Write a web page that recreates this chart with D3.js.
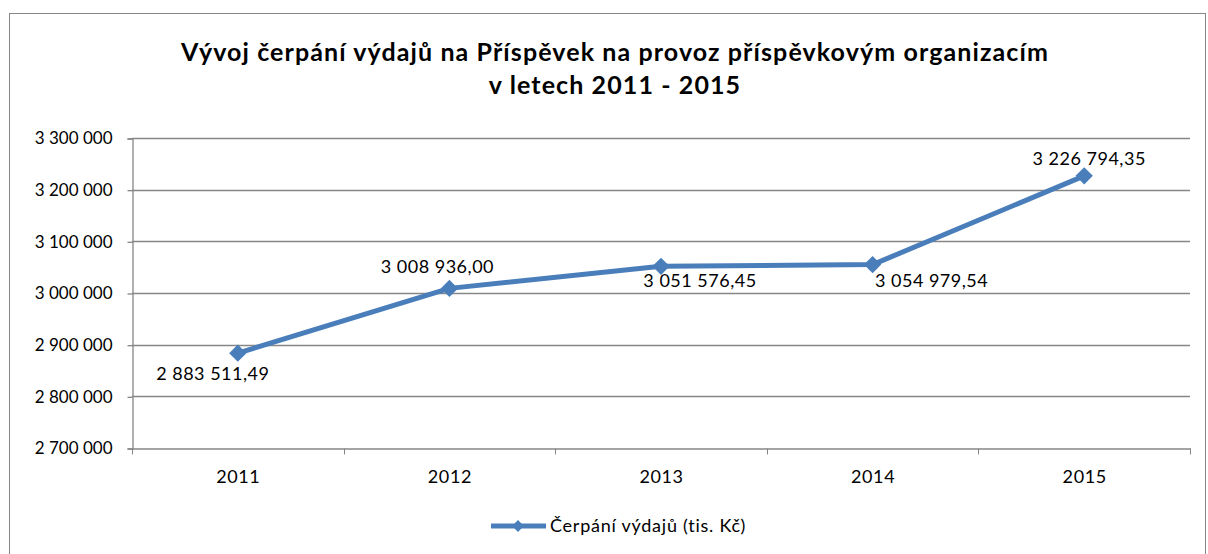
<!DOCTYPE html>
<html>
<head>
<meta charset="utf-8">
<script src="https://cdn.jsdelivr.net/npm/d3@7"></script>
<style>
  body { margin: 0; background: #fff; }
  text { font-family: Lato, "Open Sans", sans-serif; fill: #000; }
</style>
</head>
<body>
<svg id="chart" width="1208" height="554"></svg>
<script>
var years = ["2011", "2012", "2013", "2014", "2015"];
var values = [2883511.49, 3008936.00, 3051576.45, 3054979.54, 3226794.35];
var yTicks = [2700000, 2800000, 2900000, 3000000, 3100000, 3200000, 3300000];
var seriesName = "Čerpání výdajů (tis. Kč)";
var titleLines = ["Vývoj čerpání výdajů na Příspěvek na provoz příspěvkovým organizacím", "v letech 2011 - 2015"];
// label placement: dx, dy (baseline) from point
var labelPos = [[-25, 27], [-12, -15], [39, 21], [59, 22], [5, -11]];

var svg = d3.select("#chart"),
    margin = { left: 132, top: 138, right: 18, bottom: 106 },
    width = 1208, height = 554,
    lineColor = "#4a7ebb",
    gridColor = "#868686";

var fmtInt = function ( v ) {
    return d3.format(",d")( v ).replace( /,/g, " " );
};
var fmtDec = function ( v ) {
    return d3.format(",.2f")( v ).replace( /,/g, " " ).replace( ".", "," );
};

// outer frame
svg.append( "rect" )
    .attr( "x", 9.5 ).attr( "y", 13.5 )
    .attr( "width", 1196 ).attr( "height", 560 )
    .attr( "fill", "none" ).attr( "stroke", gridColor ).attr( "stroke-width", 1 );

svg.selectAll( "text.title" )
    .data( titleLines )
    .join( "text" )
    .attr( "class", "title" )
    .attr( "x", 615 )
    .attr( "y", ( d, i ) => 61 + i * 33 )
    .attr( "text-anchor", "middle" )
    .attr( "font-size", 25 )
    .attr( "letter-spacing", 1.1 )
    .attr( "font-weight", "bold" )
    .text( d => d );

var x = d3.scaleBand( years, [margin.left, width - margin.right] );
var y = d3.scaleLinear( [2700000, 3300000], [height - margin.bottom, margin.top] );

// gridlines
svg.append( "g" )
    .selectAll( "line" )
    .data( yTicks.slice( 1 ) )
    .join( "line" )
    .attr( "x1", margin.left ).attr( "x2", width - margin.right )
    .attr( "y1", d => Math.round( y( d ) ) + 0.5 ).attr( "y2", d => Math.round( y( d ) ) + 0.5 )
    .attr( "stroke", gridColor ).attr( "stroke-width", 1.3 );

// y axis
var yAxis = svg.append( "g" )
    .attr( "transform", `translate(${margin.left + 0.5},0.5)` )
    .call( d3.axisLeft( y ).tickValues( yTicks ).tickFormat( fmtInt ).tickSize( 5 ).tickPadding( 15 ) );
yAxis.selectAll( "text" ).attr( "font-size", 17 );

// x axis
var xAxis = svg.append( "g" )
    .attr( "transform", `translate(0.5,${Math.round( y( 2700000 ) ) + 0.5})` )
    .call( d3.axisBottom( x ).tickSize( 0 ) );
xAxis.selectAll( "text" )
    .attr( "font-size", 18 )
    .attr( "letter-spacing", 0.6 )
    .attr( "y", 34 ).attr( "dy", 0 );
xAxis.selectAll( "line.sep" )
    .data( d3.range( years.length + 1 ) )
    .join( "line" )
    .attr( "class", "sep" )
    .attr( "x1", i => Math.round( margin.left + i * x.step() ) )
    .attr( "x2", i => Math.round( margin.left + i * x.step() ) )
    .attr( "y1", 0 ).attr( "y2", 6 )
    .attr( "stroke", gridColor );
svg.selectAll( ".domain, .tick line" ).attr( "stroke", gridColor ).attr( "stroke-width", 1.3 );

var cx = d => x( d ) + x.bandwidth() / 2;
var line = d3.line()
    .x( ( d, i ) => cx( years[i] ) )
    .y( d => y( d ) );

svg.append( "path" )
    .datum( values )
    .attr( "d", line )
    .attr( "fill", "none" )
    .attr( "stroke", lineColor )
    .attr( "stroke-width", 5 )
    .attr( "stroke-linejoin", "round" );

var diamond = d3.symbol( d3.symbolSquare, 150 );
svg.selectAll( "path.marker" )
    .data( values )
    .join( "path" )
    .attr( "class", "marker" )
    .attr( "d", diamond )
    .attr( "transform", ( d, i ) => `translate(${cx( years[i] )},${y( d )}) rotate(45)` )
    .attr( "fill", lineColor );

svg.selectAll( "text.label" )
    .data( values )
    .join( "text" )
    .attr( "class", "label" )
    .attr( "x", ( d, i ) => cx( years[i] ) + labelPos[i][0] )
    .attr( "y", ( d, i ) => y( d ) + labelPos[i][1] )
    .attr( "text-anchor", "middle" )
    .attr( "font-size", 18 )
    .attr( "letter-spacing", 0.5 )
    .text( fmtDec );

// legend
var legend = svg.append( "g" ).attr( "transform", "translate(491,526)" );
legend.append( "line" )
    .attr( "x1", 0 ).attr( "x2", 55 )
    .attr( "stroke", lineColor ).attr( "stroke-width", 5 );
legend.append( "path" )
    .attr( "d", d3.symbol( d3.symbolSquare, 70 ) )
    .attr( "transform", "translate(27,0) rotate(45)" )
    .attr( "fill", lineColor );
legend.append( "text" )
    .attr( "x", 59 ).attr( "y", 6 )
    .attr( "font-size", 18 )
    .attr( "letter-spacing", 0.75 )
    .text( seriesName );
</script>
</body>
</html>
